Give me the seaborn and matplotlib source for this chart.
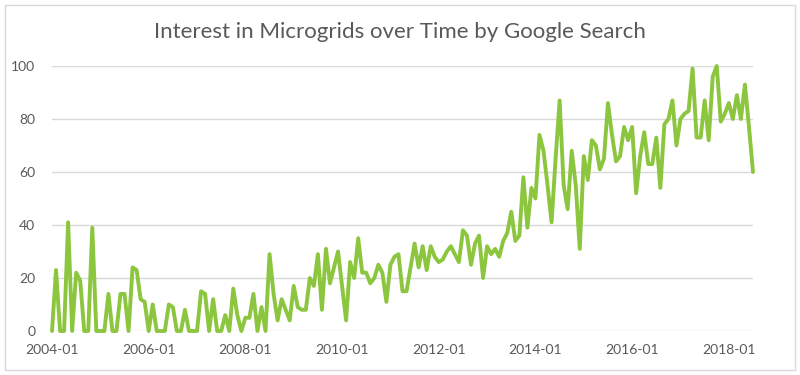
import matplotlib
matplotlib.use("Agg")
import matplotlib.pyplot as plt
import seaborn as sns
import pandas as pd
from matplotlib.patches import Rectangle

# ---- data ----
start_month = "2004-01"
interest = [
    0, 23, 0, 0, 41, 0, 22, 19, 0, 0, 39, 0,
    0, 0, 14, 0, 0, 14, 14, 0, 24, 23, 12, 11,
    0, 10, 0, 0, 0, 10, 9, 0, 0, 8, 0, 0,
    0, 15, 14, 0, 12, 0, 0, 6, 0, 16, 6, 0,
    5, 5, 14, 0, 9, 0, 29, 14, 4, 12, 8, 4,
    17, 9, 8, 8, 20, 17, 29, 8, 31, 18, 24, 30,
    17, 4, 26, 20, 35, 22, 22, 18, 20, 25, 22, 11,
    25, 28, 29, 15, 15, 24, 33, 24, 32, 23, 32, 28,
    26, 27, 30, 32, 29, 26, 38, 36, 25, 33, 36, 20,
    32, 29, 31, 28, 34, 37, 45, 34, 36, 58, 39, 54,
    50, 74, 68, 55, 41, 65, 87, 55, 46, 68, 55, 31,
    66, 57, 72, 70, 61, 65, 86, 74, 64, 66, 77, 72,
    77, 52, 66, 75, 63, 63, 73, 54, 78, 80, 87, 70,
    80, 82, 83, 99, 73, 73, 87, 72, 96, 100, 79, 82,
    86, 80, 89, 80, 93, 77, 60,
]
tick_labels = ["2004-01", "2006-01", "2008-01", "2010-01",
               "2012-01", "2014-01", "2016-01", "2018-01"]
y_ticks = [0, 20, 40, 60, 80, 100]

months = pd.period_range(start_month, periods=len(interest), freq="M").strftime("%Y-%m")
df = pd.DataFrame({"idx": range(len(interest)), "month": months, "interest": interest})

# ---- style ----
sns.set_theme(style="white")
plt.rcParams["font.family"] = ["Lato", "DejaVu Sans"]

fig = plt.figure(figsize=(8, 3.75), dpi=100)
ax = fig.add_axes([52 / 800, 1 - 331 / 375, (753 - 52) / 800, (331 - 66) / 375])

grey_txt = "#595959"
grid_col = "#d9d9d9"
line_col = "#8cc63e"

for v in y_ticks:
    ax.axhline(v, color=grid_col, lw=1.0, zorder=0)

sns.lineplot(data=df, x="idx", y="interest", ax=ax, color=line_col,
             linewidth=2.8, clip_on=False, zorder=3)

ax.set_xlim(0, len(interest) - 1)
ax.set_ylim(0, 100)
ax.set_yticks(y_ticks)
ax.set_yticklabels([str(v) for v in y_ticks])
tick_pos = [list(months).index(t) for t in tick_labels]
ax.set_xticks(tick_pos)
ax.set_xticklabels(tick_labels)
ax.tick_params(axis="both", length=0, colors=grey_txt, labelsize=10)
ax.tick_params(axis="y", pad=12)
ax.tick_params(axis="x", pad=9)
ax.set_xlabel("")
ax.set_ylabel("")
for s in ax.spines.values():
    s.set_visible(False)

fig.text(0.5, 1 - 32 / 375, "Interest in Microgrids over Time by Google Search",
         ha="center", va="center", fontsize=16, color=grey_txt, fontweight="normal")

# outer chart border
fig.patches.append(Rectangle((5 / 800, 5 / 375), 790 / 800, 365 / 375,
                             transform=fig.transFigure, fill=False,
                             edgecolor="#d9d9d9", lw=1.0))

fig.savefig("out.png", dpi=100)
